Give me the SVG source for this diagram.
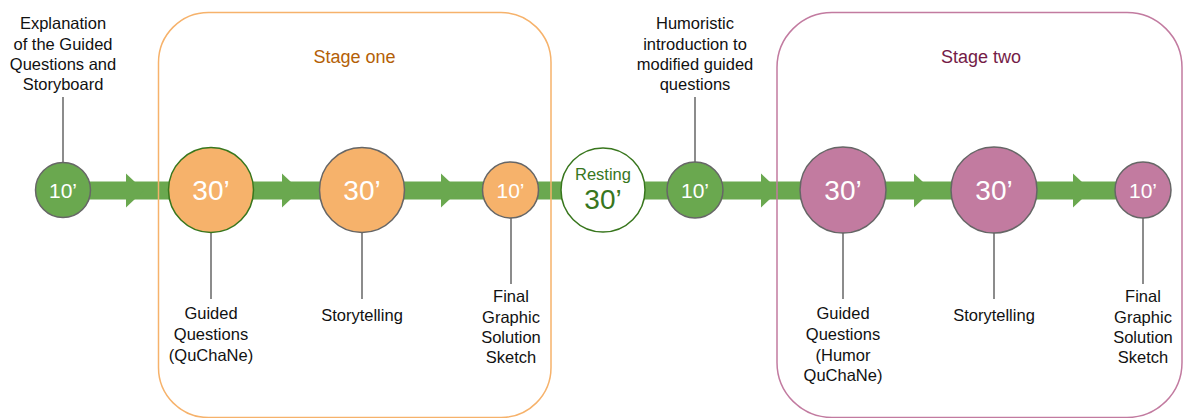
<svg xmlns="http://www.w3.org/2000/svg" width="1185" height="418" viewBox="0 0 1185 418">
<style>
text{font-family:"Liberation Sans",Arial,sans-serif;text-anchor:middle}
.lbl{font-size:16.5px;fill:#111}
.lead{stroke:#666;stroke-width:1.5;fill:none}
.bar{fill:#6aa84f}
.c{stroke:#666;stroke-width:1.5}
.g{fill:#6aa84f}
.o{fill:#f6b26b}
.p{fill:#c27ba0}
.n10{font-size:21px;fill:#fff}
.n30{font-size:28px;fill:#fff}
.box{fill:none;stroke-width:1.5}
.stage{font-size:18px}
</style>
<defs>
<polygon id="ah" points="0,-17 18,0 0,17" class="bar"/>
</defs>
<g id="connectors">
<rect class="bar" x="63" y="181.5" width="1080" height="18"/>
<use href="#ah" x="126" y="190.5"/>
<use href="#ah" x="282" y="190.5"/>
<use href="#ah" x="441" y="190.5"/>
<use href="#ah" x="761" y="190.5"/>
<use href="#ah" x="914" y="190.5"/>
<use href="#ah" x="1073" y="190.5"/>
<line class="lead" x1="63" y1="97" x2="63" y2="162"/>
<line class="lead" x1="695" y1="97" x2="695" y2="162"/>
<line class="lead" x1="211" y1="233" x2="211" y2="299"/>
<line class="lead" x1="362" y1="233" x2="362" y2="299"/>
<line class="lead" x1="511" y1="218" x2="511" y2="284"/>
<line class="lead" x1="843" y1="233" x2="843" y2="299"/>
<line class="lead" x1="994" y1="233" x2="994" y2="299"/>
<line class="lead" x1="1143" y1="218" x2="1143" y2="284"/>
</g>
<g id="stage-one">
<rect class="box" x="158.5" y="12.5" width="392.5" height="405" rx="50" stroke="#f6b26b"/>
<text class="stage" x="354.5" y="62.5" fill="#b45f06">Stage one</text>
</g>
<g id="stage-two">
<rect class="box" x="777" y="12.5" width="405" height="405" rx="55" stroke="#c27ba0"/>
<text class="stage" x="981" y="62.5" fill="#741b47">Stage two</text>
</g>
<g id="node-intro">
<circle class="c g" cx="63" cy="190" r="27.5"/>
<text class="n10" x="63" y="197.5">10’</text>
<text class="lbl" x="63" y="29.3">Explanation</text>
<text class="lbl" x="63" y="49.7">of the Guided</text>
<text class="lbl" x="63" y="70">Questions and</text>
<text class="lbl" x="63" y="90.3">Storyboard</text>
</g>
<g id="node-s1-guided">
<circle cx="211" cy="190" r="42.5" class="o" stroke="#38761d" stroke-width="1.5"/>
<text class="n30" x="211" y="200">30’</text>
<text class="lbl" x="211" y="319">Guided</text>
<text class="lbl" x="211" y="340">Questions</text>
<text class="lbl" x="211" y="360.5">(QuChaNe)</text>
</g>
<g id="node-s1-story">
<circle class="c o" cx="362" cy="190" r="42.5"/>
<text class="n30" x="362" y="200">30’</text>
<text class="lbl" x="362" y="320.5">Storytelling</text>
</g>
<g id="node-s1-final">
<circle class="c o" cx="510.5" cy="190" r="28"/>
<text class="n10" x="510.5" y="197.5">10’</text>
<text class="lbl" x="511" y="302">Final</text>
<text class="lbl" x="511" y="322.5">Graphic</text>
<text class="lbl" x="511" y="343">Solution</text>
<text class="lbl" x="511" y="363">Sketch</text>
</g>
<g id="node-resting">
<circle cx="603" cy="190" r="42" fill="#fff" stroke="#38761d" stroke-width="1.5"/>
<text x="603" y="180" font-size="16.5" fill="#38761d">Resting</text>
<text x="603" y="209" font-size="28" fill="#38761d">30’</text>
</g>
<g id="node-humor-intro">
<circle class="c g" cx="695" cy="190" r="28"/>
<text class="n10" x="695" y="197.5">10’</text>
<text class="lbl" x="695" y="29.3">Humoristic</text>
<text class="lbl" x="695" y="49.7">introduction to</text>
<text class="lbl" x="695" y="70">modified guided</text>
<text class="lbl" x="695" y="90.3">questions</text>
</g>
<g id="node-s2-guided">
<circle class="c p" cx="843" cy="190" r="43"/>
<text class="n30" x="843" y="200">30’</text>
<text class="lbl" x="843" y="319">Guided</text>
<text class="lbl" x="843" y="340">Questions</text>
<text class="lbl" x="843" y="360.5">(Humor</text>
<text class="lbl" x="843" y="381">QuChaNe)</text>
</g>
<g id="node-s2-story">
<circle class="c p" cx="994" cy="190" r="43"/>
<text class="n30" x="994" y="200">30’</text>
<text class="lbl" x="994" y="320.5">Storytelling</text>
</g>
<g id="node-s2-final">
<circle class="c p" cx="1143" cy="190" r="28"/>
<text class="n10" x="1143" y="197.5">10’</text>
<text class="lbl" x="1143" y="302">Final</text>
<text class="lbl" x="1143" y="322.5">Graphic</text>
<text class="lbl" x="1143" y="343">Solution</text>
<text class="lbl" x="1143" y="363">Sketch</text>
</g>
</svg>
